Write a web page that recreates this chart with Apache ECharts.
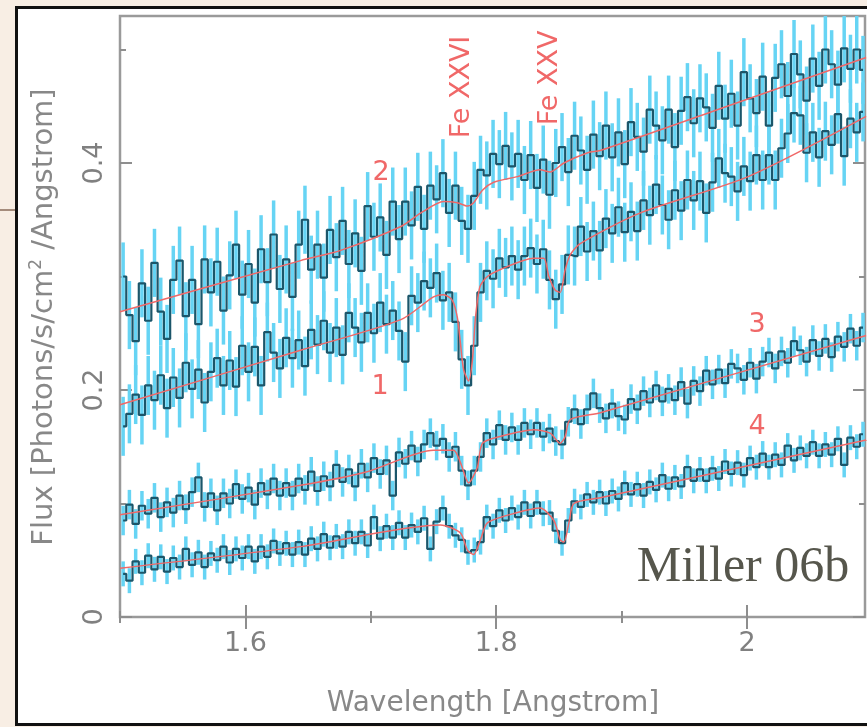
<!DOCTYPE html>
<html><head><meta charset="utf-8">
<script src="https://cdn.jsdelivr.net/npm/echarts@6/dist/echarts.min.js"></script>
<style>
html,body{margin:0;padding:0;width:867px;height:727px;overflow:hidden;background:#f8eee4;}
#frame{position:absolute;left:15px;top:6px;width:900px;height:714px;border:3px solid #111;background:#fff;}
#deco{position:absolute;left:0;top:209px;width:15px;height:2px;background:#a58c7c;}
#chart{position:absolute;left:0;top:0;width:867px;height:727px;}
</style></head>
<body>
<div id="deco"></div><div id="frame"></div><div id="chart"></div>
<script>
// ---- data ----
const binStart = 1.5025, binWidth = 0.005;   // wavelength bins (Angstrom)
const xMajorTicks = [1.6, 1.8, 2.0];
const xMinorTicks = [1.5, 1.7, 1.9, 2.1];
const yMajorTicks = [0, 0.2, 0.4];
const yMinorTicks = [0.1, 0.3, 0.5];

const flux2 = [0.300,0.266,0.243,0.294,0.261,0.312,0.269,0.245,0.297,0.314,0.265,0.297,0.258,0.315,0.286,0.313,0.270,0.301,0.328,0.284,
0.311,0.277,0.324,0.295,0.337,0.289,0.315,0.282,0.328,0.350,0.306,0.328,0.299,0.341,0.317,0.349,0.311,0.338,0.305,0.362,
0.335,0.352,0.319,0.366,0.333,0.366,0.345,0.379,0.342,0.380,0.368,0.391,0.356,0.380,0.349,0.342,0.371,0.394,0.389,0.408,
0.399,0.415,0.397,0.408,0.385,0.407,0.378,0.403,0.372,0.400,0.414,0.392,0.424,0.411,0.394,0.425,0.406,0.433,0.405,0.427,
0.399,0.436,0.423,0.410,0.447,0.433,0.420,0.447,0.414,0.446,0.458,0.435,0.457,0.449,0.431,0.468,0.439,0.461,0.433,0.480,
0.457,0.444,0.476,0.433,0.475,0.487,0.459,0.496,0.478,0.455,0.492,0.468,0.500,0.487,0.469,0.501,0.483,0.500,0.482];

const flux1 = [0.168,0.179,0.196,0.178,0.204,0.191,0.213,0.184,0.211,0.193,0.224,0.201,0.218,0.189,0.216,0.228,0.204,0.226,0.203,0.239,
0.216,0.238,0.204,0.251,0.233,0.219,0.246,0.228,0.244,0.221,0.253,0.240,0.261,0.233,0.255,0.231,0.268,0.255,0.242,0.268,
0.250,0.277,0.258,0.270,0.252,0.225,0.283,0.277,0.296,0.290,0.303,0.279,0.286,0.260,0.227,0.204,0.239,0.286,0.305,0.298,
0.316,0.308,0.318,0.306,0.318,0.325,0.311,0.324,0.297,0.280,0.293,0.319,0.318,0.344,0.322,0.340,0.323,0.351,0.338,0.361,
0.339,0.357,0.340,0.367,0.354,0.381,0.363,0.350,0.376,0.358,0.385,0.367,0.384,0.356,0.383,0.404,0.391,0.388,0.375,0.397,
0.384,0.407,0.385,0.407,0.385,0.413,0.426,0.444,0.442,0.409,0.427,0.405,0.428,0.416,0.443,0.406,0.439,0.427,0.445];

const flux3 = [0.085,0.099,0.082,0.098,0.091,0.105,0.088,0.101,0.092,0.107,0.095,0.110,0.123,0.097,0.109,0.094,0.109,0.100,0.117,0.104,
0.114,0.099,0.118,0.108,0.122,0.107,0.118,0.107,0.122,0.112,0.128,0.111,0.124,0.115,0.134,0.119,0.130,0.115,0.135,0.123,
0.140,0.126,0.138,0.107,0.145,0.135,0.151,0.137,0.152,0.162,0.151,0.157,0.141,0.150,0.129,0.116,0.129,0.141,0.162,0.152,
0.169,0.156,0.167,0.156,0.171,0.161,0.171,0.159,0.166,0.155,0.152,0.172,0.183,0.170,0.183,0.197,0.184,0.175,0.188,0.177,
0.174,0.192,0.183,0.199,0.189,0.204,0.190,0.201,0.191,0.207,0.188,0.208,0.199,0.217,0.205,0.218,0.206,0.223,0.219,0.209,
0.224,0.210,0.225,0.233,0.219,0.234,0.224,0.243,0.235,0.225,0.244,0.230,0.245,0.229,0.247,0.238,0.254,0.239,0.255];

const flux4 = [0.038,0.032,0.049,0.039,0.054,0.042,0.053,0.040,0.052,0.044,0.060,0.046,0.057,0.044,0.056,0.050,0.062,0.048,0.060,0.052,
0.062,0.049,0.062,0.053,0.067,0.056,0.065,0.055,0.066,0.055,0.069,0.060,0.073,0.061,0.071,0.062,0.075,0.065,0.075,0.063,
0.088,0.069,0.080,0.070,0.083,0.070,0.081,0.075,0.087,0.060,0.084,0.096,0.080,0.072,0.068,0.057,0.059,0.066,0.088,0.080,
0.094,0.085,0.096,0.088,0.101,0.089,0.101,0.091,0.092,0.076,0.065,0.085,0.102,0.097,0.108,0.101,0.110,0.100,0.111,0.104,
0.118,0.108,0.117,0.107,0.119,0.112,0.125,0.113,0.123,0.115,0.132,0.120,0.130,0.120,0.131,0.122,0.137,0.126,0.136,0.125,
0.140,0.132,0.144,0.132,0.143,0.134,0.151,0.138,0.149,0.142,0.154,0.142,0.152,0.143,0.157,0.134,0.158,0.150,0.161];

const fluxErr = [0.026, 0.030, 0.013, 0.011];   // 1-sigma half-heights for spectra 1..4

const model2Wave = [1.50,1.644,1.676,1.724,1.740,1.758,1.769,1.777,1.782,1.789,1.798,1.817,1.835,1.843,1.854,1.873,1.883,1.974,2.095];
const model2Flux = [0.269,0.314,0.323,0.344,0.356,0.366,0.365,0.362,0.365,0.376,0.383,0.388,0.394,0.392,0.400,0.409,0.411,0.446,0.493];
const model1Wave = [1.50,1.644,1.724,1.750,1.758,1.765,1.769,1.7715,1.774,1.778,1.781,1.7835,1.787,1.793,1.803,1.830,1.838,1.842,1.847,1.851,1.855,1.859,1.867,1.915,2.001,2.095];
const model1Flux = [0.187,0.235,0.262,0.282,0.284,0.279,0.264,0.241,0.218,0.208,0.226,0.264,0.291,0.300,0.306,0.316,0.316,0.300,0.288,0.286,0.306,0.319,0.329,0.356,0.388,0.441];
const model3Wave = [1.50,1.644,1.697,1.750,1.766,1.7715,1.778,1.785,1.789,1.803,1.830,1.843,1.851,1.855,1.859,1.883,2.095];
const model3Flux = [0.090,0.116,0.128,0.147,0.147,0.136,0.118,0.132,0.153,0.159,0.165,0.162,0.153,0.159,0.174,0.180,0.248];
const model4Wave = [1.50,1.644,1.7555,1.7715,1.777,1.782,1.7875,1.793,1.817,1.835,1.846,1.851,1.854,1.858,1.862,1.883,2.095];
const model4Flux = [0.043,0.062,0.081,0.074,0.059,0.055,0.068,0.083,0.092,0.096,0.085,0.068,0.066,0.083,0.100,0.105,0.156];

// ---- chart ----
const chart = echarts.init(document.getElementById('chart'), null, {renderer: 'canvas'});
const FONT = 'DejaVu Sans';
const RED = '#f06868';
const AX = '#8e8e8e';

function binned(arr, e) { return arr.map((v, i) => [binStart + i * binWidth, v, e]); }
function pairs(w, f) { return w.map((x, i) => [x, f[i]]); }

const spectra = [flux1, flux2, flux3, flux4];
const models = [[model1Wave, model1Flux], [model2Wave, model2Flux], [model3Wave, model3Flux], [model4Wave, model4Flux]];

const series = [];
spectra.forEach((arr, k) => {
  series.push({
    type: 'custom', clip: true, silent: true,
    data: binned(arr, fluxErr[k]),
    encode: {x: 0, y: 1},
    renderItem: (params, api) => {
      const x = api.value(0), y = api.value(1), e = api.value(2);
      const a = api.coord([x, y - e]), b = api.coord([x, y + e]);
      return {type: 'line', shape: {x1: a[0], y1: a[1], x2: b[0], y2: b[1]},
              style: {stroke: '#66d4f4', lineWidth: 3.5}};
    }
  });
});
spectra.forEach((arr, k) => {
  series.push({type: 'line', step: 'middle', symbol: 'none', silent: true,
    data: binned(arr, fluxErr[k]).map(d => [d[0], d[1]]),
    lineStyle: {color: '#1b566a', width: 2.2}});
});
models.forEach(m => {
  series.push({type: 'line', symbol: 'none', silent: true, smooth: 0.25,
    data: pairs(m[0], m[1]), lineStyle: {color: RED, width: 1.5}});
});

const XMIN = 1.5, XMAX = 2.0941, YMIN = 0, YMAX = 0.5295;
function xAx(pos, ticks, len, labels) {
  return {type: 'value', position: pos, min: XMIN, max: XMAX,
    axisLine: {show: false}, splitLine: {show: false},
    axisTick: {show: true, inside: true, length: len, customValues: ticks, lineStyle: {color: AX, width: 2}},
    axisLabel: labels ? {show: true, customValues: ticks, margin: 13, fontSize: 27, fontFamily: FONT, color: '#808080',
      formatter: v => (Math.abs(v - 2) < 1e-9 ? '2' : v.toFixed(1))} : {show: false}};
}
function yAx(pos, ticks, len, labels) {
  return {type: 'value', position: pos, min: YMIN, max: YMAX,
    axisLine: {show: false}, splitLine: {show: false},
    axisTick: {show: true, inside: true, length: len, customValues: ticks, lineStyle: {color: AX, width: 2}},
    axisLabel: labels ? {show: true, customValues: ticks, rotate: 90, margin: 12, fontSize: 27, fontFamily: FONT, color: '#808080',
      formatter: v => (v === 0 ? '0' : v.toFixed(1))} : {show: false}};
}

chart.setOption({
  animation: false,
  backgroundColor: 'transparent',
  grid: {left: 120, top: 16, width: 745, height: 601, show: true, borderColor: '#9a9a9a', borderWidth: 2.5, backgroundColor: 'transparent'},
  xAxis: [xAx('bottom', xMajorTicks, 12, true), xAx('bottom', xMinorTicks, 6, false), xAx('top', xMajorTicks, 12, false), xAx('top', xMinorTicks, 6, false)],
  yAxis: [yAx('left', yMajorTicks, 12, true), yAx('left', yMinorTicks, 6, false), yAx('right', yMajorTicks, 12, false), yAx('right', yMinorTicks, 6, false)],
  series: series,
  graphic: [
    {type: 'text', x: 493, y: 704, style: {text: 'Wavelength [Angstrom]', fontSize: 28, fontFamily: FONT, fill: '#888', align: 'center', verticalAlign: 'middle'}},
    {type: 'text', x: 44, y: 317, rotation: Math.PI / 2,
      style: {text: 'Flux [Photons/s/cm{sup|2} /Angstrom]', fontSize: 29, fontFamily: FONT, fill: '#888', align: 'center', verticalAlign: 'middle',
        rich: {sup: {fontSize: 17, fontFamily: FONT, fill: '#888', verticalAlign: 'top', lineHeight: 32}}}},
    {type: 'text', x: 462, y: 87, rotation: Math.PI / 2, style: {text: 'Fe XXVI', fontSize: 27, fontFamily: FONT, fill: RED, align: 'center', verticalAlign: 'middle'}},
    {type: 'text', x: 550, y: 78, rotation: Math.PI / 2, style: {text: 'Fe XXV', fontSize: 27, fontFamily: FONT, fill: RED, align: 'center', verticalAlign: 'middle'}},
    {type: 'text', x: 381, y: 173, style: {text: '2', fontSize: 27, fontFamily: FONT, fill: RED, align: 'center', verticalAlign: 'middle'}},
    {type: 'text', x: 380, y: 387, style: {text: '1', fontSize: 27, fontFamily: FONT, fill: RED, align: 'center', verticalAlign: 'middle'}},
    {type: 'text', x: 757, y: 325, style: {text: '3', fontSize: 27, fontFamily: FONT, fill: RED, align: 'center', verticalAlign: 'middle'}},
    {type: 'text', x: 757, y: 427, style: {text: '4', fontSize: 27, fontFamily: FONT, fill: RED, align: 'center', verticalAlign: 'middle'}},
    {type: 'text', x: 743, y: 568, style: {text: 'Miller 06b', fontSize: 50, fontFamily: 'Liberation Serif', fill: '#56564c', align: 'center', verticalAlign: 'middle'}}
  ]
});
</script>
</body></html>
